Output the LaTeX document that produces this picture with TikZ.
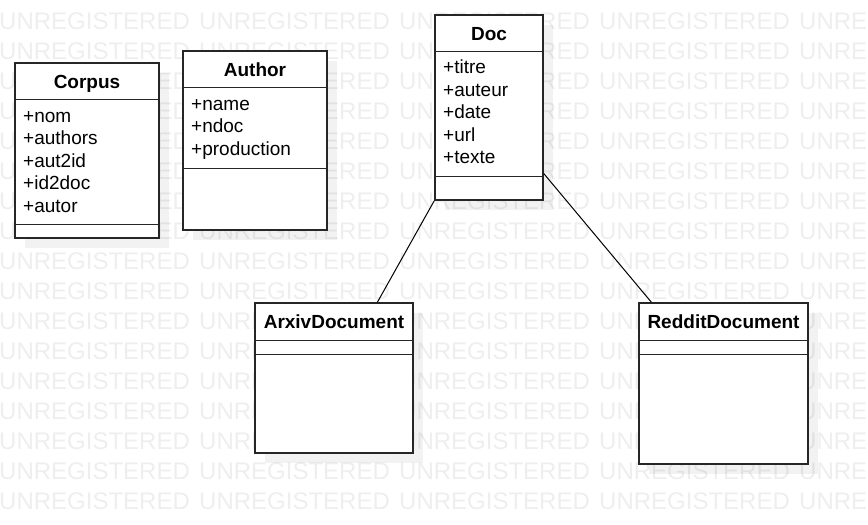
\documentclass[tikz,border=0pt]{standalone}
\usepackage{fontspec}
\setmainfont{Liberation Sans}
\usepackage{tikz}
\usetikzlibrary{calc,shadows}

\definecolor{wmark}{HTML}{EEEEEE}
\definecolor{boxline}{HTML}{262626}

\tikzset{
  classbox/.style={draw=boxline, line width=1.5pt, fill=white, inner sep=0pt,
    drop shadow={shadow xshift=10pt, shadow yshift=-10pt, fill=black, opacity=0.05}},
  classline/.style={draw=boxline, line width=1.3pt},
  classname/.style={anchor=base, inner sep=0pt, font=\fontsize{19}{22}\selectfont\bfseries},
  attr/.style={anchor=base west, inner sep=0pt, font=\fontsize{19}{22}\selectfont},
  inherit/.style={draw=black, line width=1pt},
  wm/.style={anchor=base west, inner sep=0pt, text=wmark, font=\fontsize{24}{28}\selectfont}
}

\begin{document}
\begin{tikzpicture}[x=1pt,y=-1pt]
\useasboundingbox (0,0) rectangle (868,525);

% watermark
\foreach \r in {0,...,16}{
\foreach \c in {0,...,4}{
\node[wm] (wm-\r-\c) at (\c*200-1,29+\r*30) {UNREGISTERED};}}

% Corpus
\node[classbox, minimum width=144pt, minimum height=175pt] (corpus) at (87,150.5) {};
\draw[classline] ([yshift=-37pt]corpus.north west) -- ([yshift=-37pt]corpus.north east);
\draw[classline] ([yshift=14pt]corpus.south west) -- ([yshift=14pt]corpus.south east);
\node[classname] (corpus-name) at (87,88.5) {Corpus};
\foreach \a [count=\i] in {nom,authors,aut2id,id2doc,autor}
\node[attr] (corpus-\i) at (23,99.5+22.5*\i) {+\a};

% Author
\node[classbox, minimum width=144pt, minimum height=179pt] (author) at (255,140.5) {};
\draw[classline] ([yshift=-37pt]author.north west) -- ([yshift=-37pt]author.north east);
\draw[classline] ([yshift=62pt]author.south west) -- ([yshift=62pt]author.south east);
\node[classname] (author-name) at (255,76.5) {Author};
\foreach \a [count=\i] in {name,ndoc,production}
\node[attr] (author-\i) at (191,87.5+22.5*\i) {+\a};

% Doc
\node[classbox, minimum width=108pt, minimum height=185pt] (doc) at (489,107.5) {};
\draw[classline] ([yshift=-37pt]doc.north west) -- ([yshift=-37pt]doc.north east);
\draw[classline] ([yshift=24pt]doc.south west) -- ([yshift=24pt]doc.south east);
\node[classname] (doc-name) at (489,40.5) {Doc};
\foreach \a [count=\i] in {titre,auteur,date,url,texte}
\node[attr] (doc-\i) at (443,51+22.5*\i) {+\a};

% ArxivDocument
\node[classbox, minimum width=158pt, minimum height=150pt] (arxiv) at (334,378) {};
\draw[classline] ([yshift=-38pt]arxiv.north west) -- ([yshift=-38pt]arxiv.north east);
\draw[classline] ([yshift=-52pt]arxiv.north west) -- ([yshift=-52pt]arxiv.north east);
\node[classname] (arxiv-name) at (334,328) {ArxivDocument};

% RedditDocument
\node[classbox, minimum width=169pt, minimum height=161pt] (reddit) at (723.5,383.5) {};
\draw[classline] ([yshift=-38pt]reddit.north west) -- ([yshift=-38pt]reddit.north east);
\draw[classline] ([yshift=-52pt]reddit.north west) -- ([yshift=-52pt]reddit.north east);
\node[classname] (reddit-name) at (723.5,328) {RedditDocument};

% generalisation links
\draw[inherit] (doc.south west) -- ($(arxiv.north west)!0.772!(arxiv.north east)$);
\draw[inherit] ($(doc.north east)!0.854!(doc.south east)$) -- ($(reddit.north west)!0.077!(reddit.north east)$);
\end{tikzpicture}
\end{document}
